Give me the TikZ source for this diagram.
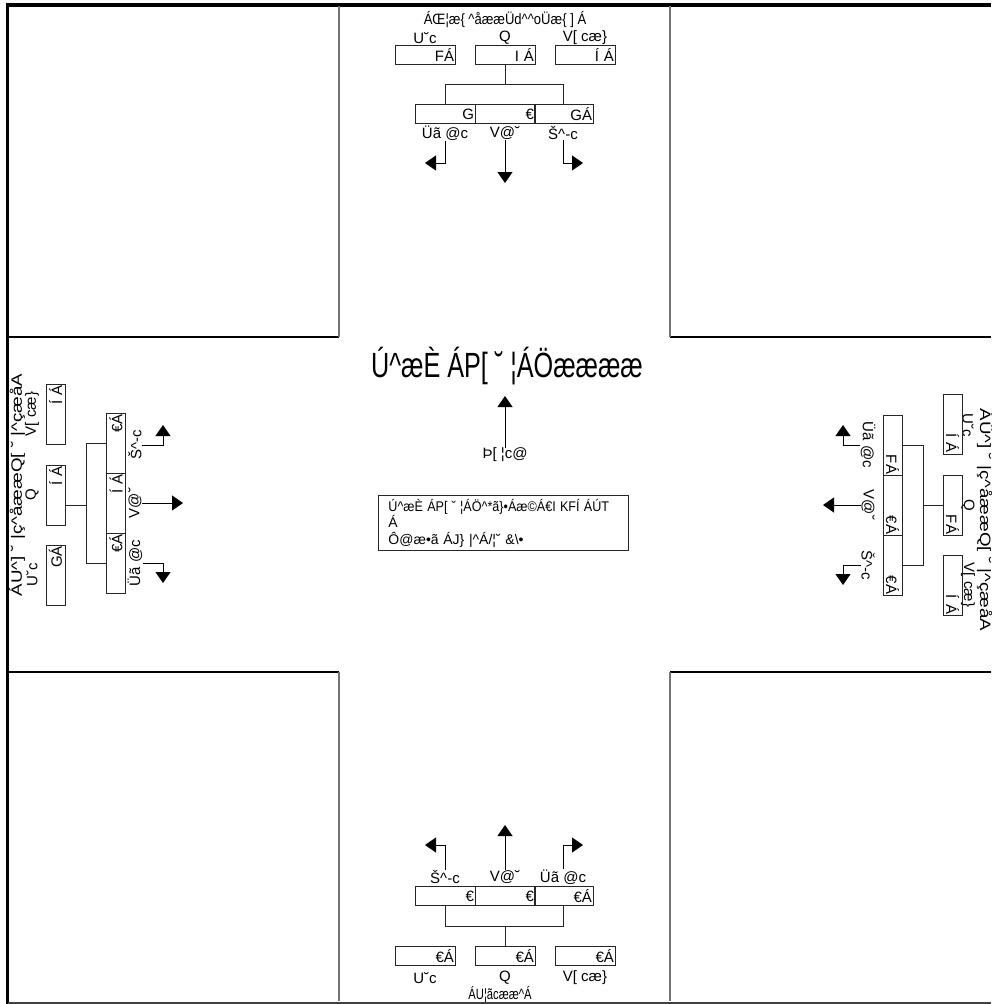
\documentclass[tikz,border=0pt]{standalone}
\usepackage{fontspec}
\setmainfont{Liberation Sans}
\usetikzlibrary{arrows.meta}
\newcommand\myc{\textasciicircum}
\begin{document}
\begin{tikzpicture}[x=1pt,y=-1pt,
  lab/.style={inner sep=0pt,font=\fontsize{15}{15}\selectfont},
  ttl/.style={inner sep=0pt,font=\fontsize{15}{15}\selectfont},
  lbox/.style={draw=black!85,line width=0.9pt,minimum width=60pt,minimum height=19pt,inner sep=0pt,text width=58pt,align=right,font=\fontsize{15}{15}\selectfont},
  conn/.style={draw=black!85,line width=0.9pt},
  arr/.style={draw=black,line width=0.9pt,-{Triangle[length=11pt,width=15pt]}},
  blkh/.style={draw=black,line width=1.2pt},
  blkv/.style={draw=black!55,line width=1.2pt}]
\useasboundingbox (0,0) rectangle (991,1004);
% frame
\draw[line width=3.5pt] (7.5,1004) -- (7.5,5) -- (991,5);
\draw[line width=2pt,black!75] (7.5,1002.5) -- (991,1002.5);
% corner blocks
\draw[blkh] (9,337) -- (339,337);
\draw[blkv] (339,337) -- (339,6);
\draw[blkh] (670,337) -- (991,337);
\draw[blkv] (670,337) -- (670,6);
\draw[blkh] (9,672) -- (339,672);
\draw[blkv] (339,672) -- (339,1001);
\draw[blkh] (670,672) -- (991,672);
\draw[blkv] (670,672) -- (670,1001);

% ===== top group =====
\node[ttl] (tT) at (505,20) {\scalebox{0.87}[1]{ÁŒ¦æ\{ \myc åææÜd\myc\myc oÜæ\{ ] Á}};
\node[lab] (tL1) at (425,38) {U˘c};
\node[lab] (tL2) at (505,38) {Q};
\node[lab] (tL3) at (585,38) {V[ cæ\}};
\node[lbox] (tA1) at (425,54.5) {FÁ};
\node[lbox] (tA2) at (505,54.5) {I Á};
\node[lbox] (tA3) at (585,54.5) {Í Á};
\node[lbox] (tB1) at (445,114) {G};
\node[lbox] (tB2) at (505,114) {€};
\node[lbox,minimum width=59pt,text width=57pt] (tB3) at (563.5,114) {GÁ};
\coordinate (tJ) at (505,84);
\draw[conn] (tA2.south) -- (tJ);
\draw[conn] (tB1.north) -- ++(0,-20) -| (tB3.north);
\node[lab] (tC1) at (445,133) {Üã @c};
\node[lab] (tC2) at (505,133) {V@˘};
\node[lab] (tC3) at (563,133) {Š\myc -c};
\coordinate (tE1) at (425,163);
\coordinate (tE2) at (505,183);
\coordinate (tE3) at (583,163);
\draw[arr] (tC1.south) |- (tE1);
\draw[arr] (tC2.south) -- (tE2);
\draw[arr] (tC3.south) |- (tE3);

% ===== center =====
\node[inner sep=0pt,font=\fontsize{35}{35}\selectfont] (cT) at (507,366) {\scalebox{0.72}[1]{Ú\myc æÈ ÁP[ ˘ ¦ÁÖææææ}};
\node[lab] (cN) at (505,455) {Þ[ ¦c@};
\coordinate (cTip) at (505,396);
\draw[arr] (cN.north) -- (cTip);
\node[draw=black!85,line width=0.9pt,anchor=north west,minimum width=250pt,minimum height=55pt,text width=242pt,align=left,inner xsep=4pt,inner ysep=1pt,font=\fontsize{14}{16.5}\selectfont] (cBox) at (378,495)
  {\hspace*{6pt}\scalebox{0.9}[1]{Ú\myc æÈ ÁP[ ˘ ¦ÁÖ\myc *ã\}•Áæ©Á€I KFÍ ÁÚT}\\ \hspace*{6pt}Á\\ \hspace*{6pt}Ô@æ•ã ÁJ\} |\myc Á/¦˘ \&\textbackslash •};

% ===== left group =====
\node[ttl,rotate=90] (lT) at (17,485) {\scalebox{1.25}[1]{ÁU\myc] ˘ |ç\myc åææQ[ ˘ |\myc çæåA}};
\node[lab,rotate=90] (lL1) at (32,575) {U˘c};
\node[lab,rotate=90] (lL2) at (32,495) {Q};
\node[lab,rotate=90] (lL3) at (32,414) {V[ cæ\}};
\node[lbox,rotate=90] (lA1) at (55.5,575) {GÁ};
\node[lbox,rotate=90] (lA2) at (55.5,495) {Í Á};
\node[lbox,rotate=90] (lA3) at (55.5,414) {Í Á};
\node[lbox,rotate=90] (lB1) at (116,443) {€Á};
\node[lbox,rotate=90] (lB2) at (116,503) {Í Á};
\node[lbox,rotate=90] (lB3) at (116,563) {€Á};
\coordinate (lJ) at (87,505);
\draw[conn] (lA2.south |- lJ) -- (lJ);
\draw[conn] (lB1.north) -- ++(-20,0) |- (lB3.north);
\node[lab,rotate=90] (lC1) at (135,445) {Š\myc -c};
\node[lab,rotate=90] (lC2) at (135,503) {V@˘};
\node[lab,rotate=90] (lC3) at (135,563) {Üã @c};
\coordinate (lE1) at (163,425);
\coordinate (lE2) at (183,503);
\coordinate (lE3) at (163,583);
\draw[arr] (lC1.south) -| (lE1);
\draw[arr] (lC2.south) -- (lE2);
\draw[arr] (lC3.south) -| (lE3);

% ===== right group =====
\node[ttl,rotate=-90] (rT) at (985,520) {\scalebox{1.25}[1]{ÁÛ\myc] ˘ |ç\myc åææQ[ ˘ |\myc çæåA}};
\node[lab,rotate=-90] (rL1) at (968,425) {U˘c};
\node[lab,rotate=-90] (rL2) at (968,505) {Q};
\node[lab,rotate=-90] (rL3) at (968,585) {V[ cæ\}};
\node[lbox,rotate=-90] (rA1) at (952.5,424) {Í Á};
\node[lbox,rotate=-90] (rA2) at (952.5,505) {FÁ};
\node[lbox,rotate=-90] (rA3) at (952.5,585) {Í Á};
\node[lbox,rotate=-90] (rB1) at (892.5,445) {FÁ};
\node[lbox,rotate=-90] (rB2) at (892.5,505) {€Á};
\node[lbox,rotate=-90] (rB3) at (892.5,565) {€Á};
\coordinate (rJ) at (923,505);
\draw[conn] (rA2.south) -- (rJ);
\draw[conn] (rB1.north) -- ++(21,0) |- (rB3.north);
\node[lab,rotate=-90] (rC1) at (868,445) {Üã @c};
\node[lab,rotate=-90] (rC2) at (868,505) {V@˘};
\node[lab,rotate=-90] (rC3) at (868,565) {Š\myc -c};
\coordinate (rE1) at (843,425);
\coordinate (rE2) at (823,505);
\coordinate (rE3) at (843,585);
\draw[arr] (rC1.south) -| (rE1);
\draw[arr] (rC2.south) -- (rE2);
\draw[arr] (rC3.south) -| (rE3);

% ===== bottom group =====
\node[ttl] (bT) at (500,995) {\scalebox{0.75}[1]{ÁU¦ãcææ\myc Á}};
\node[lab] (bL1) at (425,978) {U˘c};
\node[lab] (bL2) at (505,978) {Q};
\node[lab] (bL3) at (585,978) {V[ cæ\}};
\node[lbox] (bA1) at (425,956) {€Á};
\node[lbox] (bA2) at (505,956) {€Á};
\node[lbox] (bA3) at (585,956) {€Á};
\node[lbox] (bB1) at (445,896) {€};
\node[lbox] (bB2) at (505,896) {€};
\node[lbox,minimum width=59pt,text width=57pt] (bB3) at (563.5,896) {€Á};
\coordinate (bJ) at (505,926);
\draw[conn] (bA2.north) -- (bJ);
\draw[conn] (bB1.south) -- ++(0,20) -| (bB3.south);
\node[lab] (bC1) at (445,877) {Š\myc -c};
\node[lab] (bC2) at (505,877) {V@˘};
\node[lab] (bC3) at (563,877) {Üã @c};
\coordinate (bE1) at (425,845);
\coordinate (bE2) at (505,825);
\coordinate (bE3) at (583,845);
\draw[arr] (bC1.north) |- (bE1);
\draw[arr] (bC2.north) -- (bE2);
\draw[arr] (bC3.north) |- (bE3);
\end{tikzpicture}
\end{document}
